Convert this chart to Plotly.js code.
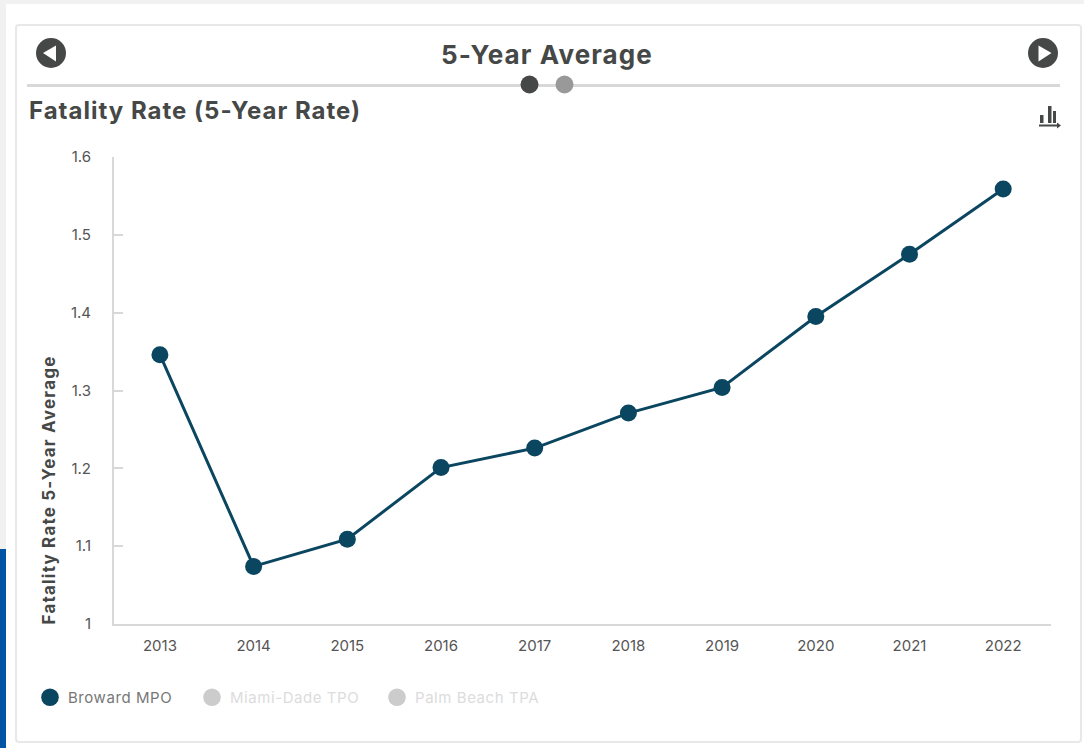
<!DOCTYPE html>
<html><head><meta charset="utf-8">
<script src="https://cdn.plot.ly/plotly-3.0.1.min.js"></script>
<style>
html,body{margin:0;padding:0;background:#fff;width:1084px;height:748px;overflow:hidden;font-family:Inter,"Open Sans",sans-serif}
.abs{position:absolute}
#chart{position:absolute;left:0;top:0;width:1084px;height:748px}
.gtitle{letter-spacing:1px}
.annotation-text{letter-spacing:1.2px}
.legendtext{letter-spacing:.56px}
.legendlines path{display:none}
</style></head><body>
<div class="abs" style="left:0;top:0;width:1084px;height:4px;background:#f1f1f1"></div>
<div class="abs" style="left:0;top:0;width:6px;height:549px;background:#f1f1f1"></div>
<div class="abs" style="left:0;top:549px;width:6px;height:199px;background:#0054a4"></div>
<div class="abs" style="left:15px;top:24px;width:1063px;height:715px;border:2px solid #e8e8e8;border-radius:4px;background:#fff"></div>
<div class="abs" style="left:27px;top:84px;width:1033px;height:3px;background:#d8d8d8"></div>
<svg class="abs" style="left:0;top:0" width="1084" height="140">
  <circle cx="51" cy="53" r="15" fill="#454846"/><polygon points="43,53 56,45.5 56,61.5" fill="#fff"/>
  <circle cx="1043" cy="53" r="15" fill="#454846"/><polygon points="1051.5,53 1038.5,45.5 1038.5,61.5" fill="#fff"/>
  <circle cx="529.5" cy="84.5" r="9" fill="#454846"/><circle cx="564.5" cy="84.5" r="9" fill="#999"/>
  <g fill="#454846"><rect x="1040" y="115" width="3.5" height="8"/><rect x="1048" y="106" width="3.5" height="17"/><rect x="1053" y="111" width="3" height="12"/>
  <rect x="1039" y="124.5" width="19" height="2"/><polygon points="1057,122.5 1061,125.5 1057,128.5"/></g>
</svg>
<div class="abs" style="left:347px;top:38px;width:400px;text-align:center;font-size:26px;line-height:34px;font-weight:700;letter-spacing:1.1px;color:#454846">5-Year Average</div>
<div id="chart"></div>
<script>
var years = ['2013','2014','2015','2016','2017','2018','2019','2020','2021','2022'];
var broward = [1.346,1.074,1.109,1.201,1.226,1.271,1.304,1.395,1.475,1.559];
var noData = [null,null,null,null,null,null,null,null,null,null];
var yTicks = [1,1.1,1.2,1.3,1.4,1.5,1.6];
var yTickText = ['1','1.1','1.2','1.3','1.4','1.5','1.6'];
var FONT = 'Inter, "Open Sans", sans-serif';
var W = 1084, H = 748;
var legendOffsets = [0,162,347];
var traces = [
 {x:years,y:broward,name:'Broward MPO',type:'scatter',mode:'lines+markers',
  line:{color:'#0b4660',width:3},marker:{color:'#0b4660',size:17}},
 {x:years,y:noData,name:'<span style="color:#dcdcdc">Miami-Dade TPO</span>',type:'scatter',mode:'lines+markers',
  line:{color:'#cccccc',width:3},marker:{color:'#cccccc',size:17}},
 {x:years,y:noData,name:'<span style="color:#dcdcdc">Palm Beach TPA</span>',type:'scatter',mode:'lines+markers',
  line:{color:'#cccccc',width:3},marker:{color:'#cccccc',size:17}}
];
var layout = {
 width:W,height:H,paper_bgcolor:'rgba(0,0,0,0)',plot_bgcolor:'rgba(0,0,0,0)',
 margin:{l:114,r:33,t:157,b:123.5,pad:0},
 font:{family:FONT,color:'#555'},
 title:{text:'Fatality Rate (5-Year Rate)',font:{family:FONT,size:24,weight:700,color:'#454846'},
   x:29/W,xanchor:'left',xref:'container',y:1-110.5/H,yanchor:'middle',yref:'container'},
 xaxis:{type:'category',range:[-0.49,9.51],showgrid:false,zeroline:false,showline:true,linecolor:'#d8d8d8',linewidth:2,
   ticks:'',tickfont:{family:FONT,size:15,color:'#555'},ticklabelstandoff:7,fixedrange:true},
 yaxis:{range:[1,1.6],tickmode:'array',tickvals:yTicks,ticktext:yTickText,showgrid:false,zeroline:false,showline:true,
   linecolor:'#d8d8d8',linewidth:2,ticks:'inside',ticklen:9,tickwidth:2,tickcolor:'#d8d8d8',
   tickfont:{family:FONT,size:15,color:'#555'},ticklabelstandoff:18,fixedrange:true},
 annotations:[{text:'Fatality Rate 5-Year Average',textangle:-90,showarrow:false,xref:'paper',yref:'paper',
   x:-(114-48)/937,y:-3/467,xanchor:'center',yanchor:'bottom',font:{family:FONT,size:17,weight:700,color:'#454846'}}],
 showlegend:true,
 legend:{orientation:'h',x:28/W,xanchor:'left',y:1-681/H,yanchor:'top',yref:'container',xref:'container',
   font:{family:FONT,size:15,color:'#777'},itemsizing:'trace',itemclick:false,itemdoubleclick:false,
   entrywidth:150,entrywidthmode:'pixels'}
};
Plotly.newPlot('chart',traces,layout,{displayModeBar:false,responsive:false}).then(function(){
  document.querySelectorAll('.legend .traces').forEach(function(el,i){
    var m = /translate\(([-\d.]+),\s*([-\d.]+)\)/.exec(el.getAttribute('transform'));
    if(m) el.setAttribute('transform','translate('+legendOffsets[i]+','+m[2]+')');
    var pt = el.querySelector('.legendpoints path');
    if(pt) pt.setAttribute('transform','translate(22,0) scale(1.1)');
  });
});
</script>
</body></html>
